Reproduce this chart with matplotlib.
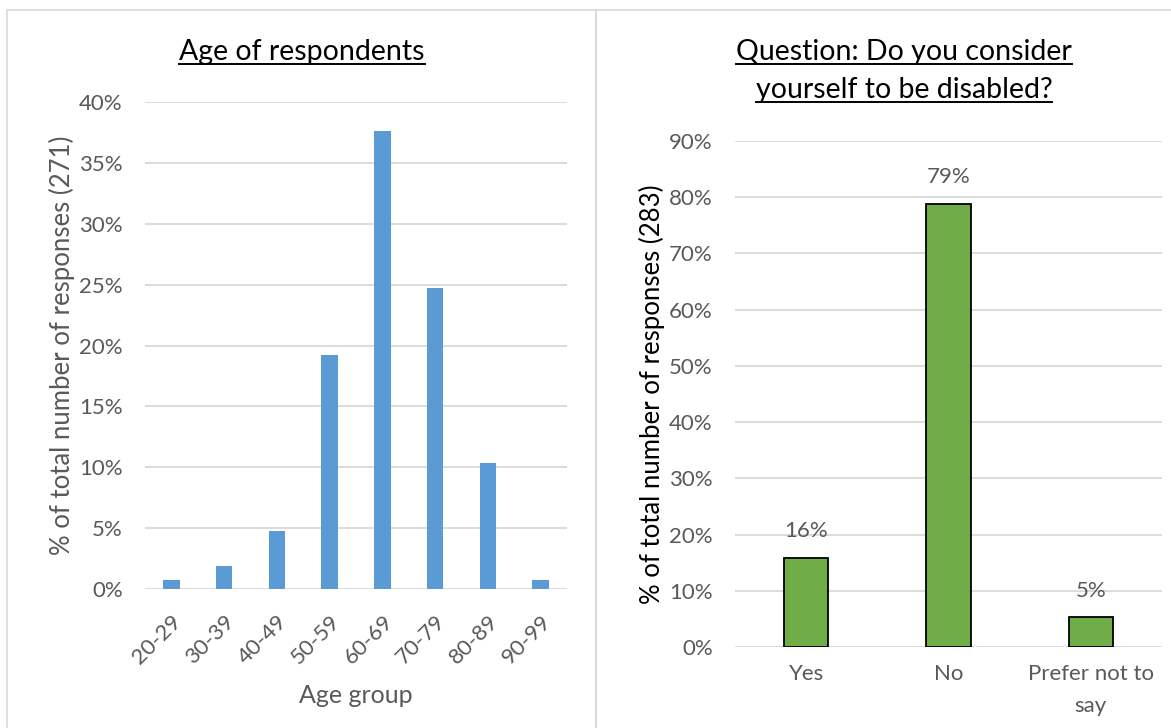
import numpy as np
import matplotlib.pyplot as plt
from matplotlib.patches import Rectangle
from matplotlib.lines import Line2D
from matplotlib.ticker import PercentFormatter

plt.rcParams['font.family'] = ['Lato', 'DejaVu Sans']

# left chart: age of respondents (271 responses)
age_groups = ["20-29", "30-39", "40-49", "50-59", "60-69", "70-79", "80-89", "90-99"]
age_share = [0.74, 1.85, 4.80, 19.19, 37.64, 24.72, 10.33, 0.74]

# right chart: disabled? (283 responses)
answers = ["Yes", "No", "Prefer not to\nsay"]
answer_share = [15.9, 78.8, 5.3]
answer_labels = ["16%", "79%", "5%"]

GREY = "#595959"
GRID = "#D9D9D9"

W, H = 1171, 728
fig = plt.figure(figsize=(W / 100, H / 100), dpi=100)


def px(x0, y0, x1, y1):
    # pixel box (top-left origin) -> figure rect
    return [x0 / W, 1 - y1 / H, (x1 - x0) / W, (y1 - y0) / H]


# panel frames
for x0, x1 in [(7, 596), (596, 1175)]:
    fig.add_artist(Rectangle((x0 / W, -0.01), (x1 - x0) / W, 1 - 10 / H + 0.01,
                             transform=fig.transFigure, fill=False,
                             edgecolor="#D9D9D9", linewidth=1.2))


def style_axes(ax, ymax, step):
    ax.set_ylim(0, ymax)
    ax.set_yticks(np.arange(0, ymax + 0.01, step))
    ax.yaxis.set_major_formatter(PercentFormatter(decimals=0))
    ax.grid(axis="y", color=GRID, linewidth=1.3)
    ax.set_axisbelow(True)
    for s in ax.spines.values():
        s.set_visible(False)
    ax.tick_params(axis="both", length=0, colors=GREY, labelsize=16)
    ax.tick_params(axis="y", pad=16)


ax1 = fig.add_axes(px(145, 102, 567, 589))
x1 = np.arange(len(age_groups))
ax1.bar(x1, age_share, width=0.31, color="#5B9BD5")
ax1.set_xlim(-0.5, len(age_groups) - 0.5)
style_axes(ax1, 40, 5)
ax1.set_xticks(x1)
ax1.set_xticklabels(age_groups, rotation=45, ha="right", rotation_mode="anchor")
ax1.tick_params(axis="x", pad=16)
ax1.set_xlabel("Age group", fontsize=18, color=GREY, labelpad=12)
ax1.set_ylabel("% of total number of responses (271)", fontsize=18.5, color=GREY, labelpad=3)

ax2 = fig.add_axes(px(735, 141, 1162, 647))
x2 = np.arange(len(answers))
bars = ax2.bar(x2, answer_share, width=0.31, color="#70AD47", edgecolor="black", linewidth=1.3)
ax2.set_xlim(-0.5, len(answers) - 0.5)
style_axes(ax2, 90, 10)
ax2.set_xticks(x2)
ax2.set_xticklabels(answers, linespacing=1.75)
ax2.tick_params(axis="x", pad=12)
ax2.set_ylabel("% of total number of responses (283)", fontsize=18.5, color="black", labelpad=3)
ax2.bar_label(bars, labels=answer_labels, padding=12, fontsize=16, color=GREY)

titles = [(302, 52, "Age of respondents"),
          (904, 52, "Question: Do you consider"),
          (904, 90, "yourself to be disabled?")]
texts = []
for x, y, s in titles:
    texts.append(fig.text(x / W, 1 - y / H, s, ha="center", va="center", fontsize=20.5, color="black"))

fig.canvas.draw()
inv = fig.transFigure.inverted()
for t in texts:
    bb = t.get_window_extent()
    (a, b), (c, d) = inv.transform([(bb.x0, bb.y0 + 1), (bb.x1, bb.y0 + 1)])
    fig.add_artist(Line2D([a, c], [b, d], transform=fig.transFigure, color="black", linewidth=1.4))

fig.savefig("out.png", dpi=100)
